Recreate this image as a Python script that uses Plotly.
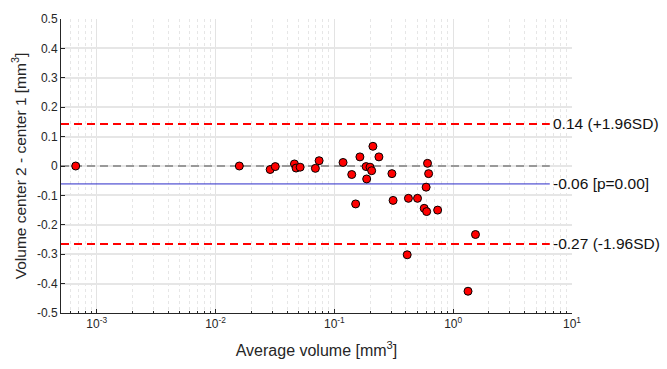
import numpy as np
import plotly.graph_objects as go

# Data
avg_volume = [0.000665, 0.01585, 0.0288, 0.0318, 0.0461, 0.0476, 0.0515, 0.0692, 0.0744,
              0.1183, 0.140, 0.151, 0.164, 0.185, 0.187, 0.1995, 0.206, 0.211, 0.237,
              0.305, 0.312, 0.420, 0.501, 0.608, 0.621, 0.592, 0.570, 0.598, 0.740,
              1.54, 0.410, 1.333]
diff_volume = [0.0, 0.0, -0.012, -0.002, 0.007, -0.007, -0.004, -0.008, 0.018,
               0.012, -0.029, -0.129, 0.031, -0.002, -0.044, -0.004, -0.016, 0.067, 0.031,
               -0.026, -0.117, -0.110, -0.110, 0.009, -0.026, -0.072, -0.144, -0.155, -0.150,
               -0.233, -0.302, -0.426]

mean_diff = -0.061
upper_loa = 0.143
lower_loa = -0.265
line_labels = ["0.14 (+1.96SD)", "-0.06 [p=0.00]", "-0.27 (-1.96SD)"]

x_min, x_max = 5e-4, 10.0
line_end = 6.5

y_ticks = [0.5, 0.4, 0.3, 0.2, 0.1, 0, -0.1, -0.2, -0.3, -0.4, -0.5]
y_ticktext = ["0.5", "0.4", "0.3", "0.2", "0.1", "0", "-0.1", "-0.2", "-0.3", "-0.4", "-0.5"]
x_ticks = [1e-3, 1e-2, 1e-1, 1, 10]
x_ticktext = ["10<sup>-3</sup>", "10<sup>-2</sup>", "10<sup>-1</sup>", "10<sup>0</sup>", "10<sup>1</sup>"]
x_minor = [m * d for d in [1e-4, 1e-3, 1e-2, 1e-1, 1] for m in range(2, 10)]
x_minor = [v for v in x_minor if x_min <= v <= x_max]

FONT = "Liberation Sans, Arial, sans-serif"

fig = go.Figure()

fig.add_trace(go.Scatter(x=[x_min, line_end], y=[0, 0], mode="lines",
                         line=dict(color="#808080", width=1.5, dash="8px,5px"), showlegend=False))
fig.add_trace(go.Scatter(x=[x_min, line_end], y=[mean_diff, mean_diff], mode="lines",
                         line=dict(color="#2b2bc8", width=1), showlegend=False))
for v in (upper_loa, lower_loa):
    fig.add_trace(go.Scatter(x=[x_min, line_end], y=[v, v], mode="lines",
                             line=dict(color="#ff0000", width=2, dash="8px,5px"), showlegend=False))

fig.add_trace(go.Scatter(x=avg_volume, y=diff_volume, mode="markers",
                         marker=dict(color="#ff0000", size=8, line=dict(color="black", width=1)),
                         showlegend=False))

for v, t in zip((upper_loa, mean_diff, lower_loa), line_labels):
    fig.add_annotation(x=np.log10(line_end), y=v, text=t, showarrow=False,
                       xanchor="left", yanchor="middle", xshift=1,
                       font=dict(family=FONT, size=15.5, color="#111"))

fig.update_layout(
    width=667, height=369,
    margin=dict(l=61, r=95, t=15, b=53),
    plot_bgcolor="white", paper_bgcolor="white",
    font=dict(family=FONT, size=12, color="#262626"),
    xaxis=dict(type="log", range=[np.log10(x_min), np.log10(x_max)],
               tickmode="array", tickvals=x_ticks, ticktext=x_ticktext,
               showline=True, linecolor="#262626", linewidth=1,
               ticks="inside", ticklen=4, tickcolor="#262626",
               showgrid=True, gridcolor="#e3e3e3", gridwidth=1,
               minor=dict(tickmode="array", tickvals=x_minor, ticks="inside", ticklen=2,
                          tickcolor="#262626", showgrid=True, gridcolor="#e6e6e6",
                          griddash="dot", gridwidth=1),
               zeroline=False,
               title=dict(text="Average volume [mm<sup>3</sup>]", font=dict(size=16), standoff=14)),
    yaxis=dict(range=[-0.5, 0.5], tickvals=y_ticks, ticktext=y_ticktext,
               showline=True, linecolor="#262626", linewidth=1,
               ticks="inside", ticklen=4, tickcolor="#262626",
               showgrid=True, gridcolor="#e6e6e6", gridwidth=1.5,
               zeroline=False,
               title=dict(text="Volume center 2 - center 1 [mm<sup>3</sup>]", font=dict(size=15.5), standoff=6)),
)

fig.write_html("out.html")
